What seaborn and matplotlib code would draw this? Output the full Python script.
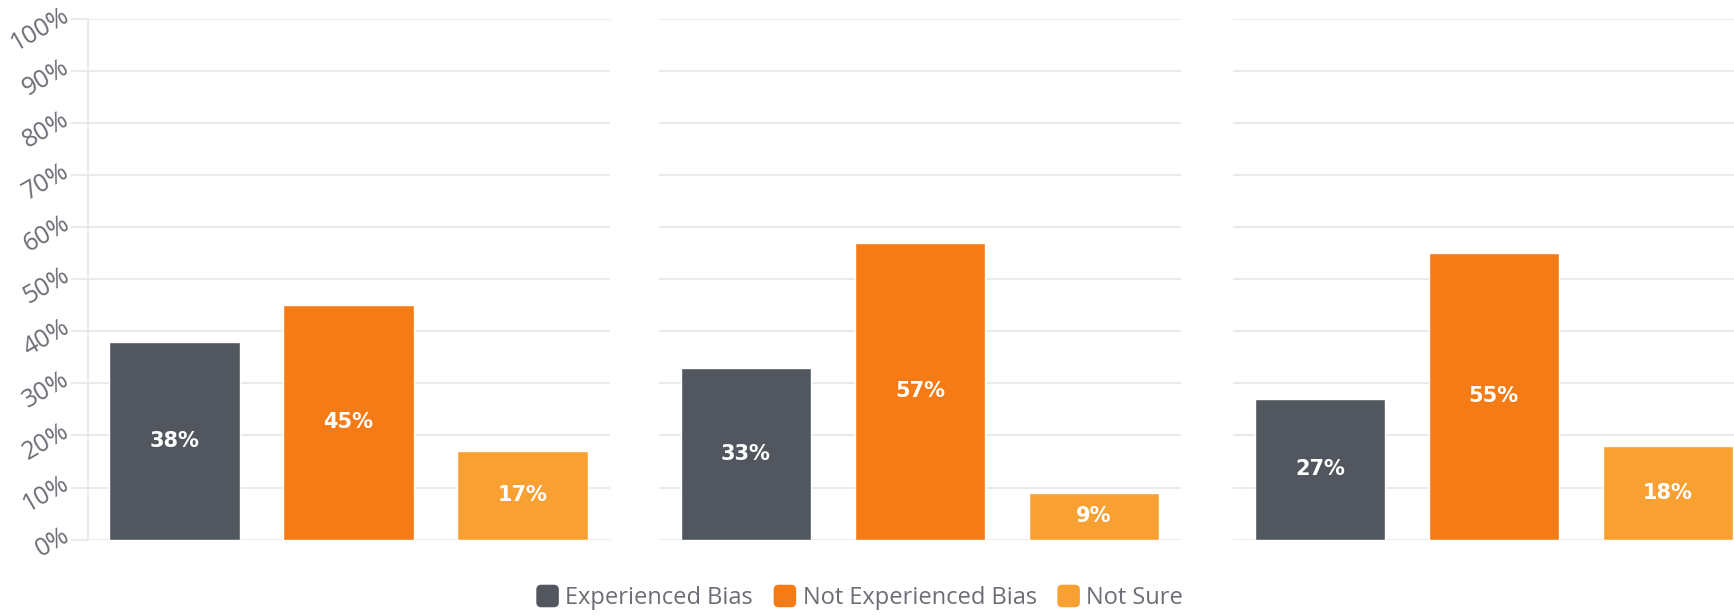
import matplotlib
matplotlib.use("Agg")
import matplotlib.pyplot as plt
from matplotlib.patches import Patch, FancyBboxPatch
from matplotlib.legend_handler import HandlerPatch
import seaborn as sns
import pandas as pd

categories = ["Experienced Bias", "Not Experienced Bias", "Not Sure"]
panel1 = [38, 45, 17]
panel2 = [33, 57, 9]
panel3 = [27, 55, 18]
panels = [panel1, panel2, panel3]
colors = ["#52575f", "#f47b16", "#f9a033"]
yticks = [0, 10, 20, 30, 40, 50, 60, 70, 80, 90, 100]
ytick_labels = [f"{t}%" for t in yticks]

sns.set_theme(style="white")
plt.rcParams['font.family'] = ['Open Sans', 'DejaVu Sans']

fig = plt.figure(figsize=(17.34, 6.16), dpi=100)
bottom, height = 0.124, 0.8456
lefts = [0.0505, 0.3800, 0.711]
width = 0.301
grid_col = "#e6e6e6"
text_col = "#6b6e75"
palette = dict(zip(categories, colors))

for i, (left, vals) in enumerate(zip(lefts, panels)):
    ax = fig.add_axes([left, bottom, width, height])
    df = pd.DataFrame({"cat": categories, "val": vals})
    sns.barplot(data=df, x="cat", y="val", hue="cat", palette=palette,
                width=0.75, legend=False, ax=ax, saturation=1)
    ax.set_ylim(0, 100)
    ax.set_xlim(-0.5, 2.5)
    ax.set_yticks(yticks)
    ax.set_xlabel("")
    ax.set_ylabel("")
    ax.set_xticks([])
    ax.grid(axis="y", color=grid_col, linewidth=1.2)
    ax.set_axisbelow(True)
    for s in ["top", "right", "bottom"]:
        ax.spines[s].set_visible(False)
    if i == 0:
        ax.spines["left"].set_color(grid_col)
        ax.spines["left"].set_linewidth(1.2)
        ax.set_yticklabels(ytick_labels, rotation=30, color=text_col,
                           fontsize=18, ha="right", va="baseline",
                           rotation_mode="anchor")
        ax.tick_params(axis="y", length=12, color=grid_col, width=1.2, pad=0, left=True)
    else:
        ax.spines["left"].set_visible(False)
        ax.set_yticklabels([])
        ax.tick_params(axis="y", length=0)
    for j, v in enumerate(vals):
        ax.text(j, v / 2, f"{v}%", ha="center", va="center", color="white",
                fontsize=15, fontweight="bold", family="DejaVu Sans")


class RoundHandler(HandlerPatch):
    def create_artists(self, legend, orig_handle, xdescent, ydescent, width, height, fontsize, trans):
        s = min(width, height) * 1.15
        x0 = -xdescent + (width - s) / 2
        y0 = -ydescent + (height - s) / 2
        p = FancyBboxPatch((x0, y0), s, s, boxstyle=f"round,pad=0,rounding_size={s*0.22}",
                           facecolor=orig_handle.get_facecolor(), edgecolor="none",
                           transform=trans)
        return [p]


handles = [Patch(facecolor=c, edgecolor=c, label=l) for c, l in zip(colors, categories)]
fig.legend(handles=handles, loc="center", bbox_to_anchor=(0.496, 0.029), ncol=3,
           frameon=False, fontsize=17, handlelength=0.9, handleheight=0.9,
           handletextpad=0.3, columnspacing=0.9, labelcolor=text_col,
           handler_map={Patch: RoundHandler()})

fig.savefig("out.png", dpi=100)
